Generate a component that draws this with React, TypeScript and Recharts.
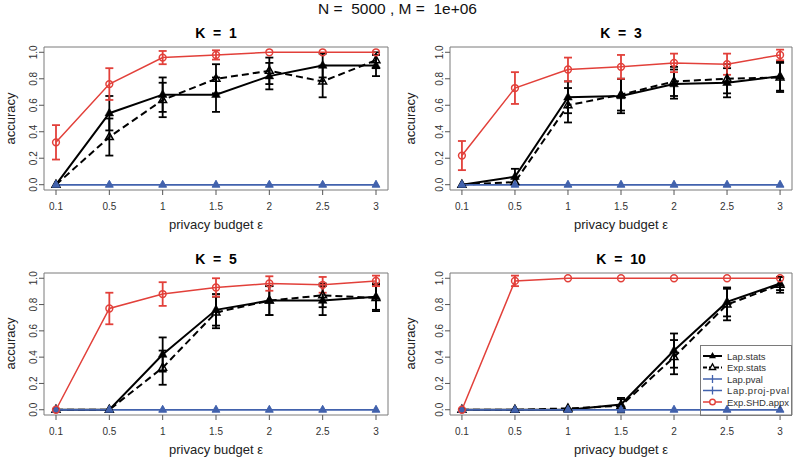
import React from "react";
import { LineChart, Line, XAxis, YAxis, ErrorBar, ReferenceArea } from "recharts";

const EPS = ["0.1", "0.5", "1", "1.5", "2", "2.5", "3"];
const Y_TICKS = [0, 0.2, 0.4, 0.6, 0.8, 1.0];
const ZEROS = [0, 0, 0, 0, 0, 0, 0];

// K = 1
const lap1 = [0, 0.54, 0.68, 0.68, 0.82, 0.9, 0.9];
const lap1Err = [0, 0.13, 0.13, 0.13, 0.1, 0.09, 0.08];
const exp1 = [0, 0.36, 0.64, 0.8, 0.86, 0.78, 0.94];
const exp1Err = [0, 0.14, 0.13, 0.11, 0.1, 0.12, 0.06];
const shd1 = [0.32, 0.76, 0.96, 0.98, 1, 1, 1];
const shd1Err = [0.13, 0.12, 0.05, 0.035, 0, 0, 0];

// K = 3
const lap3 = [0, 0.06, 0.66, 0.67, 0.76, 0.77, 0.82];
const lap3Err = [0, 0.06, 0.12, 0.13, 0.11, 0.11, 0.11];
const exp3 = [0, 0.02, 0.6, 0.68, 0.78, 0.8, 0.81];
const exp3Err = [0, 0, 0.13, 0.12, 0.11, 0.11, 0.11];
const shd3 = [0.22, 0.73, 0.87, 0.89, 0.92, 0.91, 0.98];
const shd3Err = [0.11, 0.12, 0.09, 0.09, 0.07, 0.08, 0.04];

// K = 5
const lap5 = [0, 0, 0.42, 0.76, 0.83, 0.83, 0.86];
const lap5Err = [0, 0, 0.13, 0.12, 0.11, 0.11, 0.1];
const exp5 = [0, 0, 0.32, 0.74, 0.83, 0.87, 0.85];
const exp5Err = [0, 0, 0.13, 0.12, 0.11, 0.09, 0.1];
const shd5 = [0, 0.77, 0.88, 0.93, 0.96, 0.95, 0.98];
const shd5Err = [0, 0.12, 0.09, 0.07, 0.055, 0.06, 0.04];

// K = 10
const lap10 = [0, 0, 0, 0.04, 0.45, 0.82, 0.96];
const lap10Err = [0, 0, 0, 0.05, 0.13, 0.11, 0.05];
const exp10 = [0, 0, 0.01, 0.03, 0.4, 0.8, 0.95];
const exp10Err = [0, 0, 0, 0.05, 0.13, 0.12, 0.06];
const shd10 = [0, 0.98, 1, 1, 1, 1, 1];
const shd10Err = [0, 0.04, 0, 0, 0, 0, 0];

const lapPval = ZEROS;
const lapProjPval = ZEROS;

const BLUE = "#4262ad";
const RED = "#e2403a";
const FONT = "'Liberation Sans', Arial, sans-serif";

function tri(cx: number, cy: number, s: number) {
  return `${cx},${cy - s} ${cx - s * 0.87},${cy + s * 0.55} ${cx + s * 0.87},${cy + s * 0.55}`;
}

const FilledTri = (color: string, s: number) => (p: any) => (
  <polygon key={p.index} points={tri(p.cx, p.cy, s)} fill={color} stroke={color} strokeWidth={0.5} />
);
const OpenTri = (p: any) => (
  <polygon key={p.index} points={tri(p.cx, p.cy, 4.5)} fill="none" stroke="#000" strokeWidth={1.5} />
);
const OpenCircle = (p: any) => (
  <circle key={p.index} cx={p.cx} cy={p.cy} r={3.4} fill="none" stroke={RED} strokeWidth={1.5} />
);

const YTick = (p: any) => (
  <text
    x={p.x}
    y={p.y}
    transform={`rotate(-90, ${p.x}, ${p.y})`}
    textAnchor="middle"
    fontSize={10}
    fill="#333"
    fontFamily={FONT}
  >
    {Number(p.payload.value).toFixed(1)}
  </text>
);

interface PanelProps {
  title: string;
  left: number;
  top: number;
  width: number;
  height: number;
  margin: { top: number; right: number; bottom: number; left: number };
  lap: number[];
  lapErr: number[];
  exp: number[];
  expErr: number[];
  shd: number[];
  shdErr: number[];
}

function Panel(props: PanelProps) {
  const { left, top, width, height, margin } = props;
  const data = EPS.map((_, i) => ({
    x: i,
    lap: props.lap[i],
    lapErr: props.lapErr[i],
    exp: props.exp[i],
    expErr: props.expErr[i],
    pval: lapPval[i],
    proj: lapProjPval[i],
    shd: props.shd[i],
    shdErr: props.shdErr[i],
  }));
  const boxL = left + margin.left;
  const boxR = left + width - margin.right;
  const boxT = top + margin.top;
  const boxB = top + height - margin.bottom;
  const cx = (boxL + boxR) / 2;
  return (
    <>
      <div style={{ position: "absolute", left, top }}>
        <LineChart width={width} height={height} data={data} margin={{ ...margin, bottom: 0, left: 0 }}>
          <XAxis
            dataKey="x"
            type="number"
            domain={[-0.225, 6.225]}
            allowDataOverflow
            ticks={[0, 1, 2, 3, 4, 5, 6]}
            tickFormatter={(v: number) => EPS[v]}
            axisLine={false}
            tickSize={5}
            tickMargin={8}
            height={margin.bottom}
            tick={{ fontSize: 10, fill: "#333", fontFamily: FONT }}
            tickLine={{ stroke: "#555" }}
            interval={0}
          />
          <YAxis
            type="number"
            domain={[-0.04, 1.04]}
            allowDataOverflow
            ticks={Y_TICKS}
            axisLine={false}
            tickSize={5}
            tickMargin={2}
            width={margin.left}
            tick={<YTick />}
            tickLine={{ stroke: "#555" }}
          />
          <ReferenceArea x1={-0.225} x2={6.225} y1={-0.04} y2={1.04} fill="none" stroke="#7a7a7a" strokeWidth={1} />
          <Line dataKey="lap" stroke="#000" strokeWidth={2} dot={FilledTri("#000", 5)} isAnimationActive={false}>
            <ErrorBar dataKey="lapErr" width={4} stroke="#000" strokeWidth={1.8} direction="y" />
          </Line>
          <Line dataKey="exp" stroke="#000" strokeWidth={2} strokeDasharray="7 4" dot={OpenTri} isAnimationActive={false}>
            <ErrorBar dataKey="expErr" width={4} stroke="#000" strokeWidth={1.8} direction="y" />
          </Line>
          <Line dataKey="pval" stroke={BLUE} strokeWidth={1.5} dot={FilledTri(BLUE, 4.5)} isAnimationActive={false} />
          <Line dataKey="proj" stroke={BLUE} strokeWidth={1.5} dot={FilledTri(BLUE, 4.5)} isAnimationActive={false} />
          <Line dataKey="shd" stroke={RED} strokeWidth={1.5} dot={OpenCircle} isAnimationActive={false}>
            <ErrorBar dataKey="shdErr" width={4} stroke={RED} strokeWidth={1.8} direction="y" />
          </Line>
        </LineChart>
      </div>
      <div style={{ position: "absolute", left: cx - 60, width: 120, top: boxT - 22, textAlign: "center", fontWeight: "bold", fontSize: 14, fontFamily: FONT, whiteSpace: "pre" }}>
        {props.title}
      </div>
      <div style={{ position: "absolute", left: cx - 100, width: 200, top: boxB + 27, textAlign: "center", fontSize: 13, fontFamily: FONT, color: "#222" }}>
        privacy budget ε
      </div>
      <div
        style={{
          position: "absolute",
          left: left + 10 - 40,
          width: 80,
          top: (boxT + boxB) / 2 - 8,
          textAlign: "center",
          fontSize: 13,
          fontFamily: FONT,
          color: "#222",
          transform: "rotate(-90deg)",
        }}
      >
        accuracy
      </div>
    </>
  );
}

const LEGEND = [
  { name: "Lap.stats", color: "#000", dash: undefined, mark: "filled" },
  { name: "Exp.stats", color: "#000", dash: "4 2", mark: "open" },
  { name: "Lap.pval", color: BLUE, dash: undefined, mark: "plus" },
  { name: "Lap.proj-pval", color: BLUE, dash: undefined, mark: "plus" },
  { name: "Exp.SHD.appx", color: RED, dash: undefined, mark: "circle" },
];

function LegendBox() {
  return (
    <svg style={{ position: "absolute", left: 700, top: 345, overflow: "visible" }} width={92} height={71}>
      <rect x={0.5} y={0.5} width={91} height={70} fill="none" stroke="#7a7a7a" />
      {LEGEND.map((e, i) => {
        const y = 11 + i * 11.5;
        const mx = 12.5;
        return (
          <g key={e.name}>
            <line x1={3} x2={22} y1={y} y2={y} stroke={e.color} strokeWidth={e.color === "#000" ? 2 : 1.5} strokeDasharray={e.dash} />
            {e.mark === "filled" && <polygon points={tri(mx, y, 4)} fill="#000" />}
            {e.mark === "open" && <polygon points={tri(mx, y, 3.6)} fill="#fff" stroke="#000" strokeWidth={1.3} />}
            {e.mark === "plus" && <line x1={mx} x2={mx} y1={y - 4} y2={y + 4} stroke={e.color} strokeWidth={1.3} />}
            {e.mark === "circle" && <circle cx={mx} cy={y} r={2.8} fill="#fff" stroke={RED} strokeWidth={1.4} />}
            <text x={27} y={y + 3.5} fontSize={9.5} fontFamily={FONT} fill="#333" textLength={e.name.length > 11 ? 62 : undefined}>
              {e.name}
            </text>
          </g>
        );
      })}
    </svg>
  );
}

export default function App() {
  const topMargin = { top: 47, right: 9, bottom: 39, left: 44 };
  const topMarginR = { top: 47, right: 3, bottom: 39, left: 50 };
  const botMargin = { top: 43, right: 9, bottom: 43, left: 44 };
  const botMarginR = { top: 43, right: 3, bottom: 43, left: 50 };
  return (
    <div style={{ position: "absolute", left: 0, top: 0, width: 795, height: 458, background: "#fff", overflow: "hidden", fontFamily: FONT }}>
      <div style={{ position: "absolute", left: 0, width: 795, top: 0, textAlign: "center", fontSize: 15.5, whiteSpace: "pre", color: "#111" }}>
        {"N =  5000 , M =  1e+06"}
      </div>
      <Panel title="K  =  1" left={0} top={0} width={397} height={229} margin={topMargin}
        lap={lap1} lapErr={lap1Err} exp={exp1} expErr={exp1Err} shd={shd1} shdErr={shd1Err} />
      <Panel title="K  =  3" left={400} top={0} width={395} height={229} margin={topMarginR}
        lap={lap3} lapErr={lap3Err} exp={exp3} expErr={exp3Err} shd={shd3} shdErr={shd3Err} />
      <Panel title="K  =  5" left={0} top={230} width={397} height={228} margin={botMargin}
        lap={lap5} lapErr={lap5Err} exp={exp5} expErr={exp5Err} shd={shd5} shdErr={shd5Err} />
      <Panel title="K  =  10" left={400} top={230} width={395} height={228} margin={botMarginR}
        lap={lap10} lapErr={lap10Err} exp={exp10} expErr={exp10Err} shd={shd10} shdErr={shd10Err} />
      <LegendBox />
    </div>
  );
}
